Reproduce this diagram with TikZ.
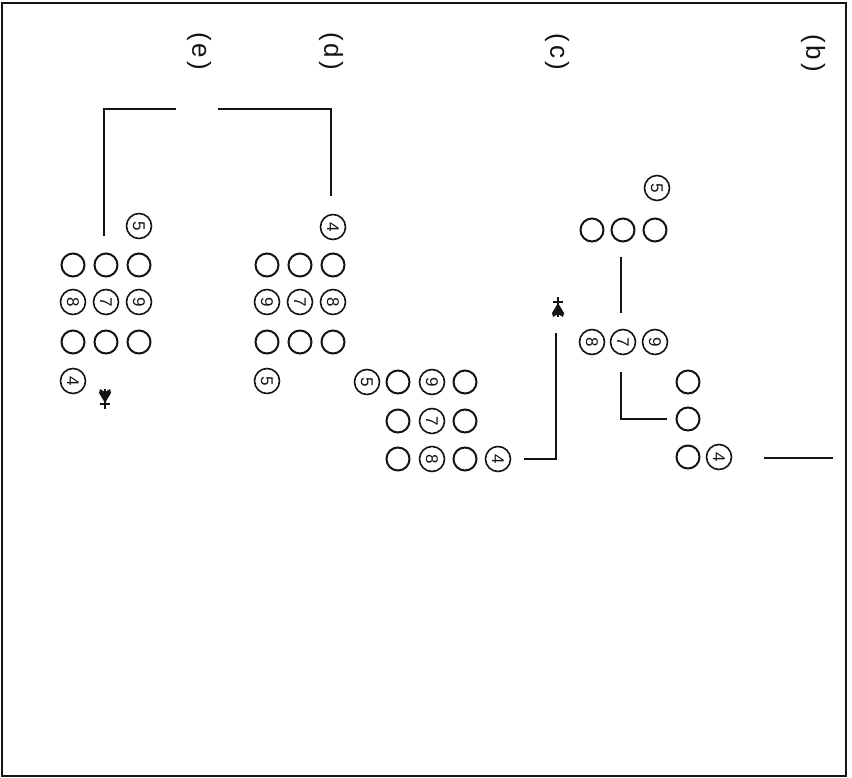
\documentclass[tikz,border=0pt]{standalone}
\usepackage{fontspec}
\setmainfont{Liberation Sans}
\usepackage{tikz}
\usetikzlibrary{positioning}
\definecolor{scink}{RGB}{20,20,20}
\tikzset{
  hole/.style={
    circle, draw=scink, line width=2pt, minimum size=23pt, inner sep=0pt
  },
  num/.style={
    circle, draw=scink, line width=1.6pt, minimum size=25pt, inner sep=0pt,
    rotate=-90, font=\fontsize{17}{17}\selectfont, text=scink
  },
  tag/.style={rotate=-90, font=\fontsize{26}{26}\selectfont, text=scink, inner sep=0pt},
  wire/.style={draw=scink, line width=1.6pt},
  frame/.style={draw=scink, line width=1.6pt},
  fmark/.pic={
    \fill[scink] (0,2) -- (6,-8) -- (5,-12) -- (0,-9) -- (-5,-12) -- (-6,-8) -- cycle;
    \draw[scink, line width=1.3pt] (0,-12) -- (0,8) (-5,3) -- (5,3);
  }
}
\begin{document}
\begin{tikzpicture}[x=1pt, y=-1pt]
  \fill[white] (0,0) rectangle (852,778);
  \useasboundingbox (0,0) rectangle (852,778);
  \draw[frame] (2,3) rectangle (846,776);
  % labels
  \node[tag] (le) at (199,51) {(\hspace{3pt}e\hspace{3pt})};
  \node[tag] (ld) at (331,51) {(\hspace{3pt}d\hspace{3pt})};
  \node[tag] (lc) at (557,52) {(\hspace{3pt}c\hspace{3pt})};
  \node[tag] (lb) at (813,53) {(\hspace{3pt}b\hspace{3pt})};
  % group e
  \node[num] (e5) at (139,226) {5};
  \node[hole] (e11) at (73,265) {};
  \node[hole] (e12) at (106,265) {};
  \node[hole] (e13) at (139,265) {};
  \node[num] (e8) at (73,302) {8};
  \node[num] (e7) at (106,302) {7};
  \node[num] (e9) at (139,302) {9};
  \node[hole] (e31) at (73,342) {};
  \node[hole] (e32) at (106,342) {};
  \node[hole] (e33) at (139,342) {};
  \node[num] (e4) at (73,381) {4};
  \pic at (105,401) {fmark};
  % group d
  \node[num] (d4) at (333,227) {4};
  \node[hole] (d11) at (267,265) {};
  \node[hole] (d12) at (300,265) {};
  \node[hole] (d13) at (333,265) {};
  \node[num] (d9) at (267,302) {9};
  \node[num] (d7) at (300,302) {7};
  \node[num] (d8) at (333,302) {8};
  \node[hole] (d31) at (267,342) {};
  \node[hole] (d32) at (300,342) {};
  \node[hole] (d33) at (333,342) {};
  \node[num] (d5) at (267,381) {5};
  % group c
  \node[num] (c5) at (367,382) {5};
  \node[hole] (c11) at (398,382) {};
  \node[num] (c9) at (432,382) {9};
  \node[hole] (c13) at (465,382) {};
  \node[hole] (c21) at (398,421) {};
  \node[num] (c7) at (432,421) {7};
  \node[hole] (c23) at (465,421) {};
  \node[hole] (c31) at (398,459) {};
  \node[num] (c8) at (432,459) {8};
  \node[hole] (c33) at (465,459) {};
  \node[num] (c4) at (498,459) {4};
  \pic[yscale=-1] at (558,305) {fmark};
  % group b
  \node[num] (b5) at (657,188) {5};
  \node[hole] (b11) at (592,230) {};
  \node[hole] (b12) at (623,230) {};
  \node[hole] (b13) at (655,230) {};
  \node[num] (b8) at (592,342) {8};
  \node[num] (b7) at (623,342) {7};
  \node[num] (b9) at (655,342) {9};
  \node[hole] (b21) at (688,382) {};
  \node[hole] (b22) at (688,419) {};
  \node[hole] (b23) at (688,457) {};
  \node[num] (b4) at (719,457) {4};
  % connectors
  \coordinate (ea) at (104,236);
  \coordinate (eb) at (176,109);
  \coordinate (da) at (218,109);
  \coordinate (db) at (331,196);
  \coordinate (ca) at (556,333);
  \coordinate (cb) at (524,459);
  \coordinate (ba) at (621,257);
  \coordinate (bb) at (621,313);
  \coordinate (bc) at (621,372);
  \coordinate (bd) at (667,419);
  \coordinate (be) at (764,458);
  \coordinate (bf) at (833,458);
  \draw[wire] (ea) |- (eb);
  \draw[wire] (da) -| (db);
  \draw[wire] (ca) |- (cb);
  \draw[wire] (ba) -- (bb);
  \draw[wire] (bc) |- (bd);
  \draw[wire] (be) -- (bf);
\end{tikzpicture}
\end{document}
